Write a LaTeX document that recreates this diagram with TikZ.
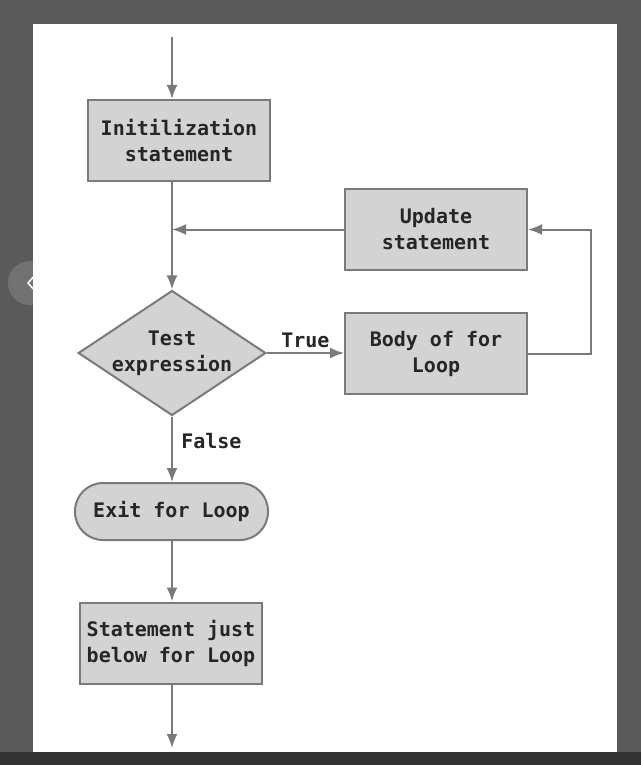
\documentclass[tikz,border=0pt]{standalone}
\usepackage{fontspec}
\usepackage{xcolor}
\usepackage{tikz}
\usetikzlibrary{shapes.geometric,arrows.meta}
\setmonofont{DejaVu Sans Mono}

\definecolor{pagegray}{HTML}{5A5A5A}
\definecolor{boxfill}{HTML}{D3D3D3}
\definecolor{edgegray}{HTML}{7A7A7A}

\tikzset{
  flowbox/.style={rectangle, draw=edgegray, line width=2pt, fill=boxfill,
    minimum width=182pt, minimum height=81pt, align=center, inner sep=0pt},
  testbox/.style={diamond, draw=edgegray, line width=2pt, fill=boxfill,
    aspect=1.5, inner sep=0pt, align=center},
  exitbox/.style={rectangle, rounded corners=28pt, draw=edgegray, line width=2pt,
    fill=boxfill, minimum width=193pt, minimum height=57pt, align=center},
  flowline/.style={draw=edgegray, line width=2pt, -{Latex[length=14pt,width=11pt]}},
  flowtext/.style={font=\ttfamily\bfseries\fontsize{20}{26}\selectfont, text=black!85}
}

\begin{document}
\begin{tikzpicture}[x=1pt, y=-1pt, flowtext]
    % Screen around the figure
    \fill[pagegray] (0,0) rectangle (641,765);
    \fill[black!80] (0,752) rectangle (641,765);
    \fill[white] (33,24) rectangle (617,752);
    \fill[white, opacity=0.15] (30,283) circle (22);
    \draw[white, line width=1.5pt] (36,274) -- (28,283) -- (36,292);

    % Boxes
    \node[flowbox] (init) at (179,140.5) {Initilization\\statement};
    \node[flowbox] (update) at (436,229.5) {Update\\statement};
    \node[testbox] (test) at (172,353) {Test\\expression};
    \node[flowbox] (body) at (436,353.5) {Body of for\\Loop};
    \node[exitbox] (exit) at (171.5,511.5) {Exit for Loop};
    \node[flowbox] (after) at (171,643) {Statement just\\below for Loop};

    \coordinate (start) at (172,37);
    \coordinate (finish) at (172,748);

    % Arrows
    \draw[flowline] (start) -- (start |- init.north);
    \draw[flowline] (start |- init.south) -- (test.north);
    \draw[flowline] (update.west) -- (test.north |- update.west);
    \draw[flowline] (test.east) -- (body.west |- test.east)
        node[midway, above=1pt] (truelabel) {True};
    \draw[flowline] (body.east) -- ++(63,0) |- (update.east);
    \draw[flowline] (test.south) -- (exit.north -| test.south)
        node[pos=0.38, right=5pt] (falselabel) {False};
    \draw[flowline] (exit.south -| test.south) -- (after.north -| test.south);
    \draw[flowline] (after.south -| test.south) -- (finish);
\end{tikzpicture}
\end{document}
